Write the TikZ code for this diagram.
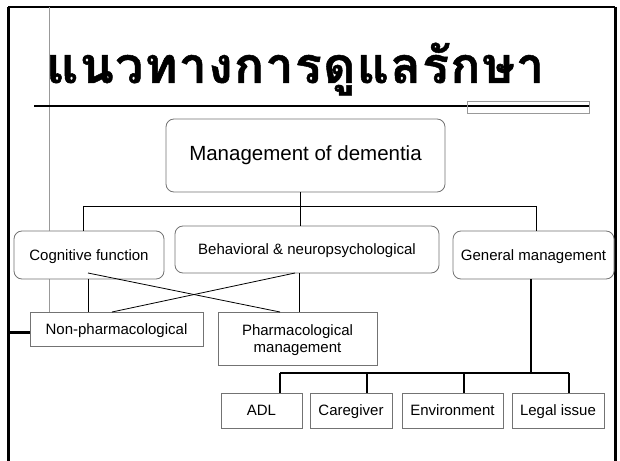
\documentclass[tikz,border=0pt]{standalone}
\usepackage{fontspec}
\setmainfont{Liberation Sans}
\newfontfamily\thaifont[Script=Thai, LetterSpace=2.6, BoldFeatures={FakeBold=1}]{Loma}
\begin{document}
\begin{tikzpicture}[x=1bp,y=-1bp,
  lbl/.style={font=\fontsize{15bp}{17bp}\selectfont, text height=10.7bp, text depth=0bp},
  rbox/.style={draw=black!55, line width=0.8bp, fill=white, rounded corners=8bp, inner sep=0pt, align=center, lbl},
  sbox/.style={draw=black!55, line width=0.8bp, fill=white, inner sep=0pt, align=center, lbl},
  conn/.style={draw=black, line width=0.8bp},
  bconn/.style={draw=black, line width=1.4bp}]
\useasboundingbox (0,0) rectangle (620,461);
% frame
\coordinate (ftl) at (8,7);
\coordinate (ftr) at (615,7);
\coordinate (fbl) at (8,462);
\coordinate (fbr) at (615,462);
\draw[line width=2bp] (ftl) -- (ftr);
\draw[line width=3bp] (ftl) -- (fbl);
\draw[line width=3bp] (ftr) -- (fbr);
% gray guide line
\coordinate (g1) at (49.5,7);
\coordinate (g2) at (49.5,312);
\draw[black!40, line width=0.8bp] (g1) -- (g2);
% title
\node[anchor=base west, inner sep=0pt, font=\thaifont\bfseries\fontsize{50bp}{58bp}\selectfont] (title) at (46,83) {แนวทางการดูแลรักษา};
\coordinate (u1) at (34,106);
\coordinate (u2) at (589,106);
\draw[line width=2bp] (u1) -- (u2);
\draw[black!40, line width=0.8bp] (467,101) rectangle (589,113);
% nodes
\node[rbox, minimum width=279bp, minimum height=73bp, font=\fontsize{20.5bp}{23bp}\selectfont, text height=14.7bp, text depth=5bp] (mgmt) at (305.5,155.5) {Management of dementia};
\node[rbox, minimum width=150bp, minimum height=48bp] (cog) at (89,255) {Cognitive function};
\node[rbox, minimum width=264bp, minimum height=47bp] (beh) at (307,249.5) {Behavioral \& neuropsychological};
\node[rbox, minimum width=161bp, minimum height=48bp] (gen) at (533.5,255) {General management};
\node[sbox, minimum width=173bp, minimum height=34bp] (nonph) at (116.5,329) {Non-pharmacological};
\node[sbox, minimum width=159bp, minimum height=53bp, text height=, text depth=0bp] (pharm) at (297.5,338.5) {Pharmacological\\management};
\node[sbox, minimum width=81bp, minimum height=35bp] (adl) at (261.5,410.5) {ADL};
\node[sbox, minimum width=82bp, minimum height=35bp] (care) at (351,410.5) {Caregiver};
\node[sbox, minimum width=101bp, minimum height=35bp] (env) at (452.5,410.5) {Environment};
\node[sbox, minimum width=92bp, minimum height=35bp] (legal) at (558,410.5) {Legal issue};
% top tree
\coordinate (bL) at (83,206);
\coordinate (bM) at (300,206);
\coordinate (bR) at (536,206);
\draw[conn] (mgmt.south -| bM) -- (beh.north -| bM);
\draw[conn] (bL) -- (bR);
\draw[conn] (bL) -- (cog.north -| bL);
\draw[conn] (bR) -- (gen.north -| bR);
% middle connections
\coordinate (c1) at (88,278);
\coordinate (xa1) at (88,273);
\coordinate (xa2) at (280,312);
\coordinate (xb1) at (295,273);
\coordinate (xb2) at (112,312);
\coordinate (b1) at (299,273);
\draw[conn] (cog.south -| c1) -- (nonph.north -| c1);
\draw[conn] (xa1) -- (xa2);
\draw[conn] (xb1) -- (xb2);
\draw[conn] (beh.south -| b1) -- (pharm.north -| b1);
\coordinate (stub) at (8,332);
\draw[line width=3bp] (stub) -- (nonph.west |- stub);
% general management subtree
\coordinate (gv) at (531,373);
\coordinate (d1) at (280,373);
\coordinate (d2) at (367,373);
\coordinate (d3) at (464,373);
\coordinate (d4) at (569,373);
\draw[bconn] (gen.south -| gv) -- (gv);
\draw[bconn] (d1) -- (d4);
\draw[bconn] (d1) -- (adl.north -| d1);
\draw[bconn] (d2) -- (care.north -| d2);
\draw[bconn] (d3) -- (env.north -| d3);
\draw[bconn] (d4) -- (legal.north -| d4);
\end{tikzpicture}
\end{document}
